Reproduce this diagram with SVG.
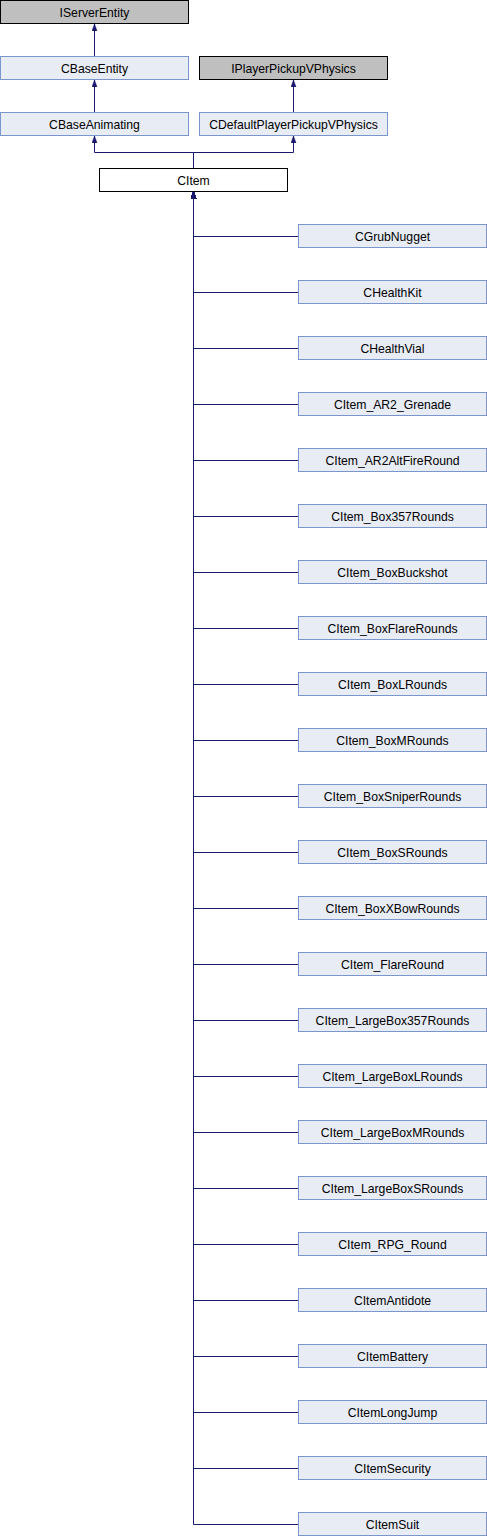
<svg xmlns="http://www.w3.org/2000/svg" width="487" height="1536" viewBox="0 0 487 1536">
<style>
rect{stroke-width:1}
.g{fill:#bfbfbf;stroke:#000}
.b{fill:#e8ecf5;stroke:#7b96cc}
.w{fill:#fff;stroke:#000}
text{font-family:"Liberation Sans",Arial,sans-serif;font-size:12.2px;text-anchor:middle;fill:#000}
.e{fill:none;stroke:#191970;stroke-width:1;marker-end:url(#a)}
</style>
<defs>
<marker id="a" markerUnits="userSpaceOnUse" markerWidth="7" markerHeight="6" refX="7" refY="3" orient="auto" viewBox="0 0 7 6"><path d="M0,0.5 L7,3 L0,5.5 z" fill="#191970" stroke="#191970" stroke-width="0.5"/></marker>
</defs>
<g id="connectors">
<path class="e" d="M94.5,56 V24"/>
<path class="e" d="M94.5,112 V80"/>
<path class="e" d="M293.5,112 V80"/>
<path class="e" d="M193.5,168 V152.5 H94.5 V136"/>
<path class="e" d="M193.5,168 V152.5 H293.5 V136"/>
<path class="e" d="M298,236.5 H193.5 V192"/>
<path class="e" d="M298,292.5 H193.5 V192"/>
<path class="e" d="M298,348.5 H193.5 V192"/>
<path class="e" d="M298,404.5 H193.5 V192"/>
<path class="e" d="M298,460.5 H193.5 V192"/>
<path class="e" d="M298,516.5 H193.5 V192"/>
<path class="e" d="M298,572.5 H193.5 V192"/>
<path class="e" d="M298,628.5 H193.5 V192"/>
<path class="e" d="M298,684.5 H193.5 V192"/>
<path class="e" d="M298,740.5 H193.5 V192"/>
<path class="e" d="M298,796.5 H193.5 V192"/>
<path class="e" d="M298,852.5 H193.5 V192"/>
<path class="e" d="M298,908.5 H193.5 V192"/>
<path class="e" d="M298,964.5 H193.5 V192"/>
<path class="e" d="M298,1020.5 H193.5 V192"/>
<path class="e" d="M298,1076.5 H193.5 V192"/>
<path class="e" d="M298,1132.5 H193.5 V192"/>
<path class="e" d="M298,1188.5 H193.5 V192"/>
<path class="e" d="M298,1244.5 H193.5 V192"/>
<path class="e" d="M298,1300.5 H193.5 V192"/>
<path class="e" d="M298,1356.5 H193.5 V192"/>
<path class="e" d="M298,1412.5 H193.5 V192"/>
<path class="e" d="M298,1468.5 H193.5 V192"/>
<path class="e" d="M298,1524.5 H193.5 V192"/>
</g>
<g id="IServerEntity"><rect class="g" x="0.5" y="0.5" width="188" height="23"/><text x="94.5" y="16.5">IServerEntity</text></g>
<g id="CBaseEntity"><rect class="b" x="0.5" y="56.5" width="188" height="23"/><text x="94.5" y="72.5">CBaseEntity</text></g>
<g id="IPlayerPickupVPhysics"><rect class="g" x="199.5" y="56.5" width="188" height="23"/><text x="293.5" y="72.5">IPlayerPickupVPhysics</text></g>
<g id="CBaseAnimating"><rect class="b" x="0.5" y="112.5" width="188" height="23"/><text x="94.5" y="128.5">CBaseAnimating</text></g>
<g id="CDefaultPlayerPickupVPhysics"><rect class="b" x="199.5" y="112.5" width="188" height="23"/><text x="293.5" y="128.5">CDefaultPlayerPickupVPhysics</text></g>
<g id="CItem"><rect class="w" x="99.5" y="168.5" width="188" height="23"/><text x="193.5" y="184.5">CItem</text></g>
<g id="CGrubNugget"><rect class="b" x="298.5" y="224.5" width="188" height="23"/><text x="392.5" y="240.5">CGrubNugget</text></g>
<g id="CHealthKit"><rect class="b" x="298.5" y="280.5" width="188" height="23"/><text x="392.5" y="296.5">CHealthKit</text></g>
<g id="CHealthVial"><rect class="b" x="298.5" y="336.5" width="188" height="23"/><text x="392.5" y="352.5">CHealthVial</text></g>
<g id="CItem_AR2_Grenade"><rect class="b" x="298.5" y="392.5" width="188" height="23"/><text x="392.5" y="408.5">CItem_AR2_Grenade</text></g>
<g id="CItem_AR2AltFireRound"><rect class="b" x="298.5" y="448.5" width="188" height="23"/><text x="392.5" y="464.5">CItem_AR2AltFireRound</text></g>
<g id="CItem_Box357Rounds"><rect class="b" x="298.5" y="504.5" width="188" height="23"/><text x="392.5" y="520.5">CItem_Box357Rounds</text></g>
<g id="CItem_BoxBuckshot"><rect class="b" x="298.5" y="560.5" width="188" height="23"/><text x="392.5" y="576.5">CItem_BoxBuckshot</text></g>
<g id="CItem_BoxFlareRounds"><rect class="b" x="298.5" y="616.5" width="188" height="23"/><text x="392.5" y="632.5">CItem_BoxFlareRounds</text></g>
<g id="CItem_BoxLRounds"><rect class="b" x="298.5" y="672.5" width="188" height="23"/><text x="392.5" y="688.5">CItem_BoxLRounds</text></g>
<g id="CItem_BoxMRounds"><rect class="b" x="298.5" y="728.5" width="188" height="23"/><text x="392.5" y="744.5">CItem_BoxMRounds</text></g>
<g id="CItem_BoxSniperRounds"><rect class="b" x="298.5" y="784.5" width="188" height="23"/><text x="392.5" y="800.5">CItem_BoxSniperRounds</text></g>
<g id="CItem_BoxSRounds"><rect class="b" x="298.5" y="840.5" width="188" height="23"/><text x="392.5" y="856.5">CItem_BoxSRounds</text></g>
<g id="CItem_BoxXBowRounds"><rect class="b" x="298.5" y="896.5" width="188" height="23"/><text x="392.5" y="912.5">CItem_BoxXBowRounds</text></g>
<g id="CItem_FlareRound"><rect class="b" x="298.5" y="952.5" width="188" height="23"/><text x="392.5" y="968.5">CItem_FlareRound</text></g>
<g id="CItem_LargeBox357Rounds"><rect class="b" x="298.5" y="1008.5" width="188" height="23"/><text x="392.5" y="1024.5">CItem_LargeBox357Rounds</text></g>
<g id="CItem_LargeBoxLRounds"><rect class="b" x="298.5" y="1064.5" width="188" height="23"/><text x="392.5" y="1080.5">CItem_LargeBoxLRounds</text></g>
<g id="CItem_LargeBoxMRounds"><rect class="b" x="298.5" y="1120.5" width="188" height="23"/><text x="392.5" y="1136.5">CItem_LargeBoxMRounds</text></g>
<g id="CItem_LargeBoxSRounds"><rect class="b" x="298.5" y="1176.5" width="188" height="23"/><text x="392.5" y="1192.5">CItem_LargeBoxSRounds</text></g>
<g id="CItem_RPG_Round"><rect class="b" x="298.5" y="1232.5" width="188" height="23"/><text x="392.5" y="1248.5">CItem_RPG_Round</text></g>
<g id="CItemAntidote"><rect class="b" x="298.5" y="1288.5" width="188" height="23"/><text x="392.5" y="1304.5">CItemAntidote</text></g>
<g id="CItemBattery"><rect class="b" x="298.5" y="1344.5" width="188" height="23"/><text x="392.5" y="1360.5">CItemBattery</text></g>
<g id="CItemLongJump"><rect class="b" x="298.5" y="1400.5" width="188" height="23"/><text x="392.5" y="1416.5">CItemLongJump</text></g>
<g id="CItemSecurity"><rect class="b" x="298.5" y="1456.5" width="188" height="23"/><text x="392.5" y="1472.5">CItemSecurity</text></g>
<g id="CItemSuit"><rect class="b" x="298.5" y="1512.5" width="188" height="23"/><text x="392.5" y="1528.5">CItemSuit</text></g>
</svg>
